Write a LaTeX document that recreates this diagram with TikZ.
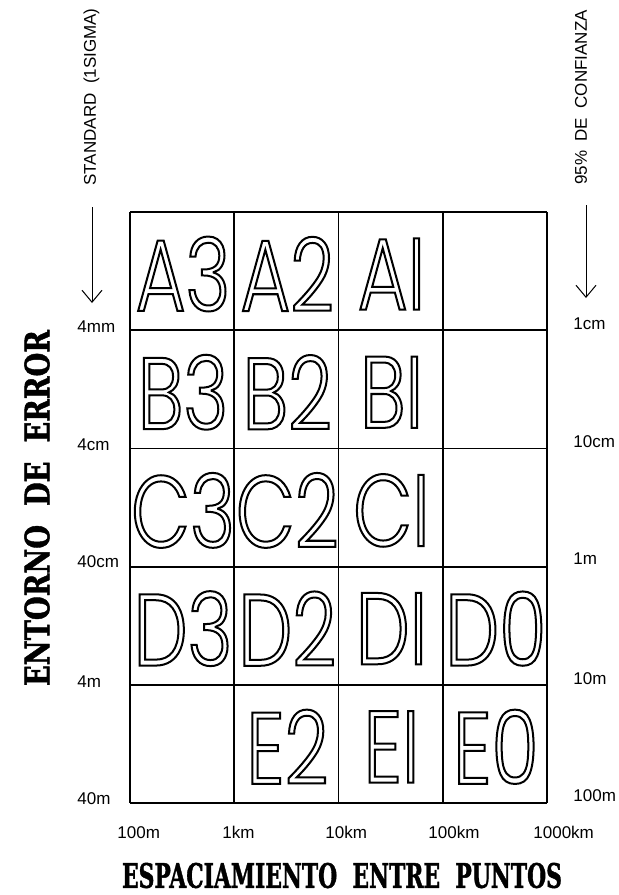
\documentclass[tikz,border=0pt]{standalone}
\usepackage{fontspec}
\usepackage{graphicx}
\usepackage{xcolor}
\usetikzlibrary{arrows.meta}
\setmainfont{Liberation Sans}
\newfontfamily\cellfont{Poppins}[UprightFont=* Light,FakeStretch=0.75]
\newfontfamily\titlefont{DejaVu Serif}[FakeBold=1.5]
% outlined glyphs (stroke only)
\newcommand{\hollow}[1]{\special{pdf:literal direct 1 Tr 1 w}#1\special{pdf:literal direct 0 Tr}}

\begin{document}
\begin{tikzpicture}[x=0.5pt,y=-0.5pt,
    gridline/.style={line width=0.9pt},
    axisarrow/.style={line width=0.5pt,-{Straight Barb[length=6pt,width=10pt]}},
    scalelabel/.style={font=\fontsize{8.5}{10}\selectfont,inner sep=0pt},
    celltext/.style={font=\cellfont\fontsize{51}{51}\selectfont,inner sep=0pt},
    bigtitle/.style={font=\titlefont\bfseries,inner sep=0pt}]
            \useasboundingbox (0,0) rectangle (618,895);
            % grid
            \foreach \i in {0,...,4}
                \draw[gridline] (130+\i*104.25,212) -- (130+\i*104.25,803);
            \foreach \j in {0,...,5}
                \draw[gridline] (130,212+\j*118.2) -- (547,212+\j*118.2);
            % cells
            \foreach \c/\r/\t in {0/0/A3,1/0/A2,2/0/AI,
                                  0/1/B3,1/1/B2,2/1/BI,
                                  0/2/C3,1/2/C2,2/2/CI,
                                  0/3/D3,1/3/D2,2/3/DI,3/3/D0,
                                  1/4/E2,2/4/EI,3/4/E0}
                \node[celltext] (cell-\t) at (183+\c*104.25,274+\r*118.2) {\hollow{\t}};
            % left scale
            \foreach \y/\t [count=\i] in {331/4mm,449/4cm,566/40cm,686/4m,803/40m}
                \node[scalelabel,anchor=base west] (left\i) at (77,\y+1) {\t};
            % right scale
            \foreach \y/\t [count=\i] in {331/1cm,449/10cm,566/1m,686/10m,803/100m}
                \node[scalelabel,anchor=base west] (right\i) at (573,\y-2) {\t};
            % bottom scale
            \foreach \x/\t [count=\i] in {117/100m,222/1km,325/10km,428/100km,533/1000km}
                \node[scalelabel,anchor=base west] (bottom\i) at (\x,838) {\t};
            % arrows
            \node[scalelabel,rotate=90] (std) at (91.5,97) {STANDARD\ \ (1SIGMA)};
            \node[scalelabel,rotate=90] (conf) at (581,97.5) {95\%\ \ DE\ \ CONFIANZA};
            \coordinate (stdtop) at (92,207);
            \coordinate (stdtip) at (92,303);
            \coordinate (conftop) at (586,205);
            \coordinate (conftip) at (586,298);
            \draw[axisarrow] (stdtop) -- (stdtip);
            \draw[axisarrow] (conftop) -- (conftip);
            % titles
            \node[bigtitle,rotate=90] (ytitle) at (37,508) {\resizebox{178pt}{12.5pt}{ENTORNO\ \ DE\ \ ERROR}};
            \node[bigtitle] (xtitle) at (342,875.5) {\resizebox{220pt}{12.5pt}{ESPACIAMIENTO\ \ ENTRE\ \ PUNTOS}};
        \end{tikzpicture}
\end{document}
